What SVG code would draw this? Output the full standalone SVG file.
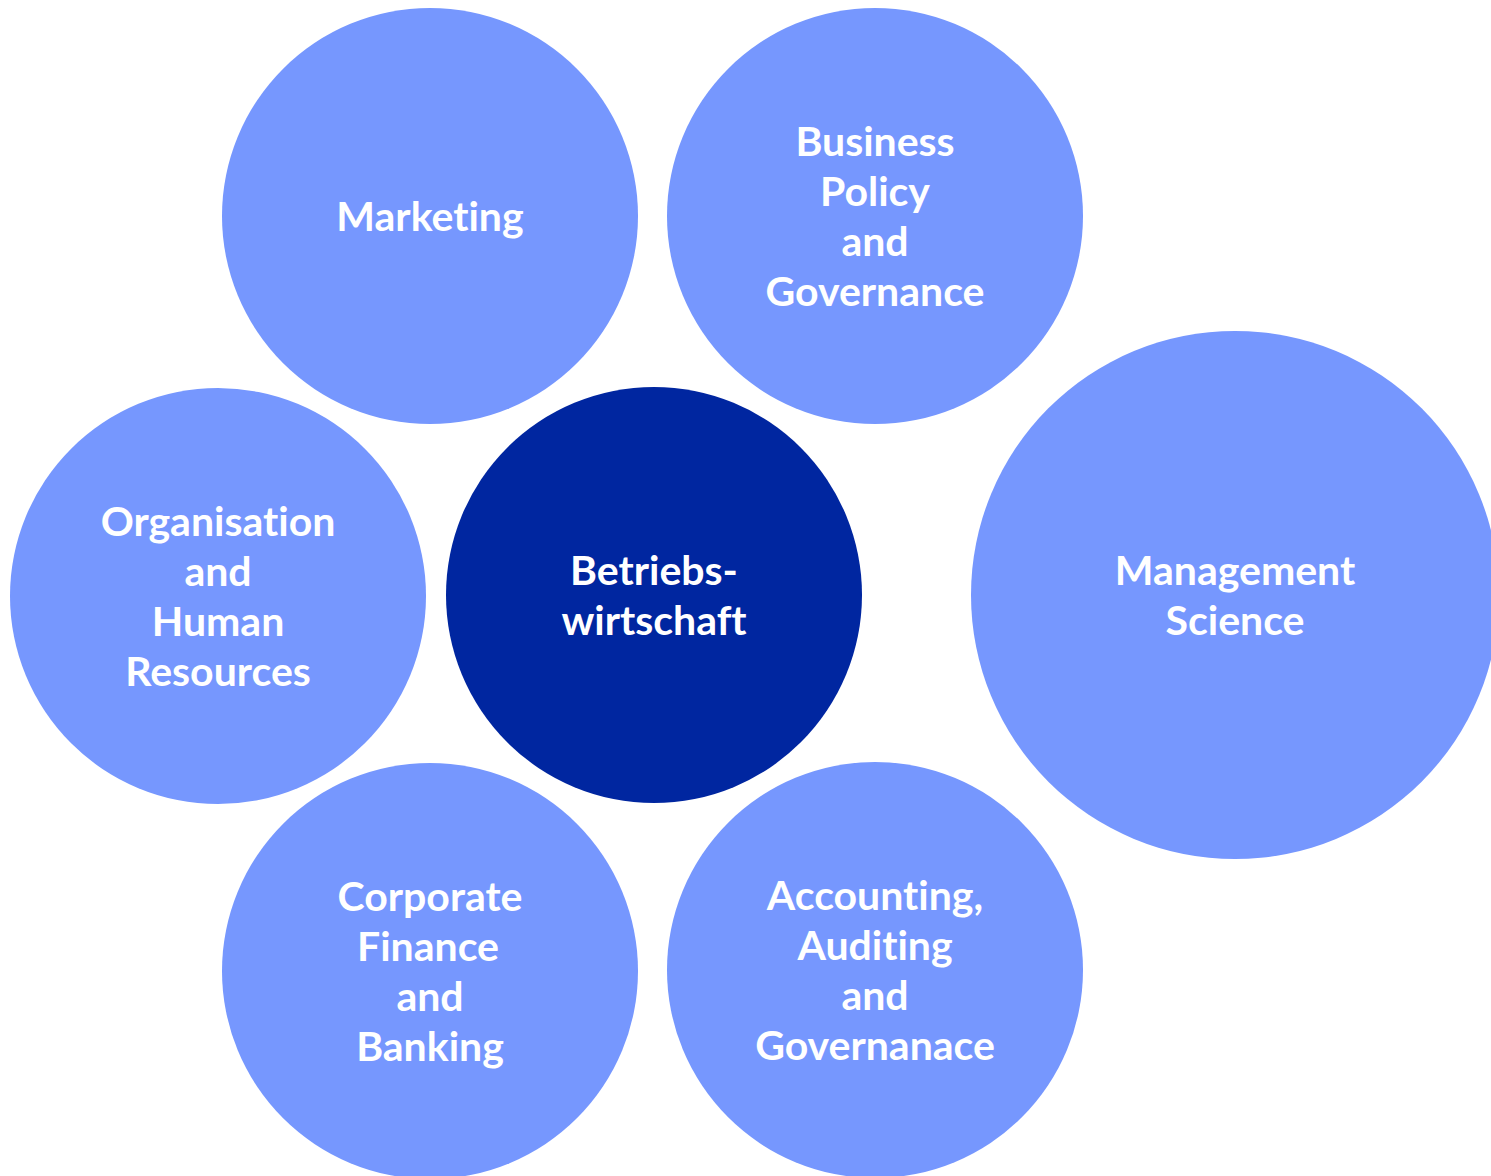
<svg xmlns="http://www.w3.org/2000/svg" width="1491" height="1176" viewBox="0 0 1491 1176">
<style>
.c{fill:#7697FE}
.d{fill:#0026A0}
text{font-family:Lato,"Noto Sans",sans-serif;font-weight:bold;font-size:41px;fill:#FFFFFF;text-anchor:middle;font-variant-ligatures:none;font-feature-settings:"liga" 0,"clig" 0}
</style>
<rect width="1491" height="1176" fill="#FFFFFF"/>
<g id="connectors"></g>
<g id="marketing"><circle class="c" cx="430" cy="216" r="208"/><text x="430" y="231">Marketing</text></g>
<g id="business-policy"><circle class="c" cx="875" cy="216" r="208"/><text x="875" y="156">Business</text><text x="875" y="206">Policy</text><text x="875" y="256">and</text><text x="875" y="306">Governance</text></g>
<g id="organisation"><circle class="c" cx="218" cy="596" r="208"/><text x="218" y="536">Organisation</text><text x="218" y="586">and</text><text x="218" y="636">Human</text><text x="218" y="686">Resources</text></g>
<g id="betriebswirtschaft"><circle class="d" cx="654" cy="595" r="208"/><text x="654" y="585">Betriebs-</text><text x="654" y="635">wirtschaft</text></g>
<g id="management-science"><circle class="c" cx="1235" cy="595" r="264"/><text x="1235" y="585">Management</text><text x="1235" y="635">Science</text></g>
<g id="corporate-finance"><circle class="c" cx="430" cy="971" r="208"/><text x="430" y="911">Corporate</text><text x="428" y="961">Finance</text><text x="430" y="1011">and</text><text x="430" y="1061">Banking</text></g>
<g id="accounting"><circle class="c" cx="875" cy="970" r="208"/><text x="875" y="910">Accounting,</text><text x="875" y="960">Auditing</text><text x="875" y="1010">and</text><text x="875" y="1060">Governanace</text></g>
</svg>
